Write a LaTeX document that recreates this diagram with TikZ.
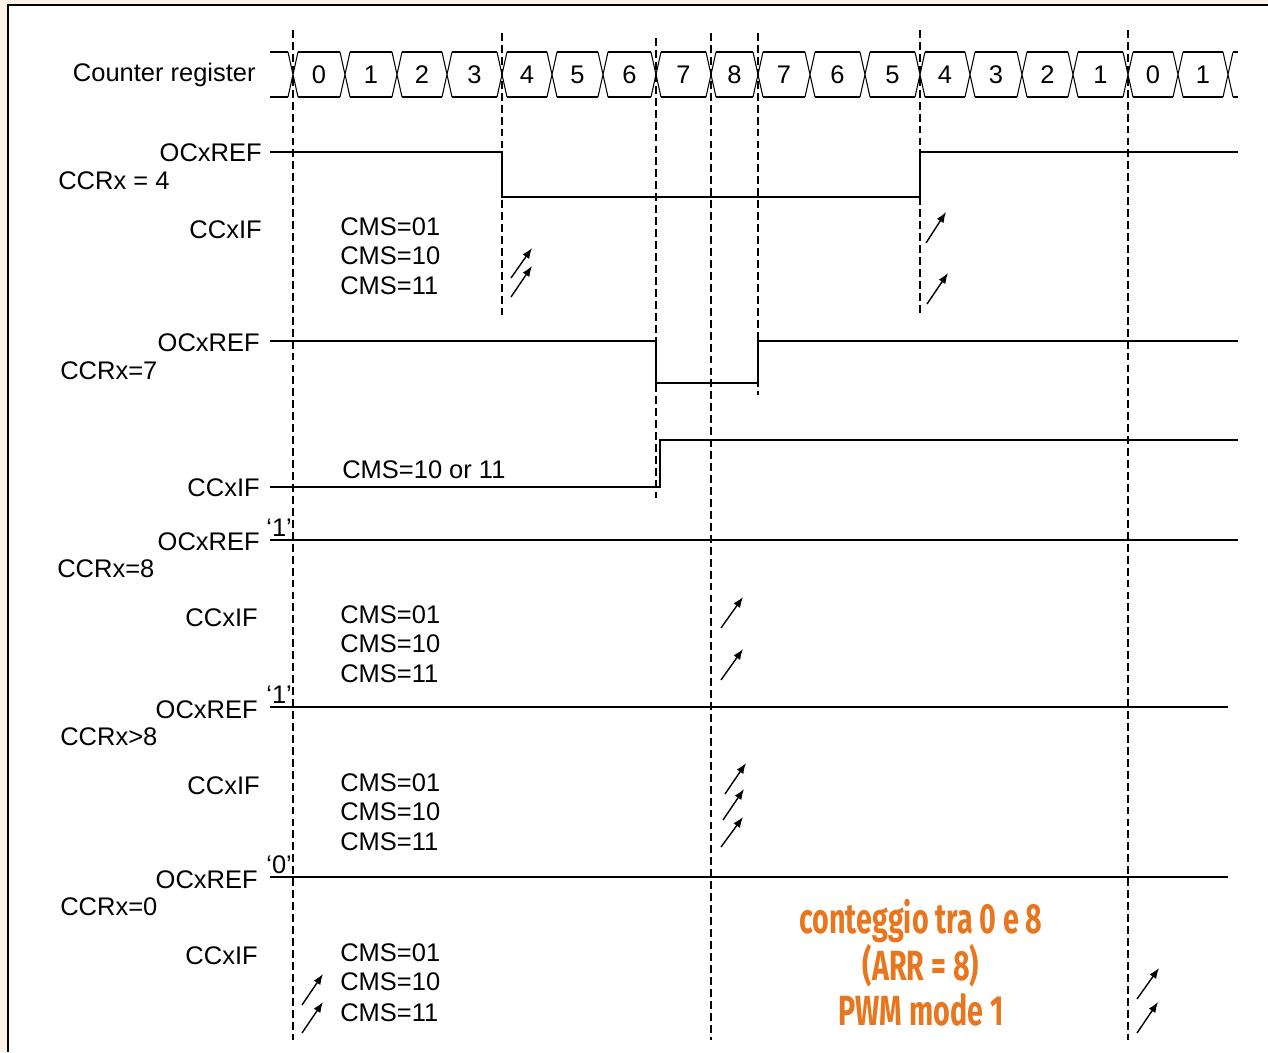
\documentclass[tikz,border=0pt]{standalone}
\usepackage{fontspec}
\setmainfont{Liberation Sans}
\newfontfamily\notefont[FakeStretch=0.68]{Fira Sans}
\definecolor{notecolor}{HTML}{E8761E}
\definecolor{paper}{HTML}{FCF2E8}
\usetikzlibrary{arrows.meta}

\begin{document}
\begin{tikzpicture}[x=0.02cm, y=-0.02cm,
      font=\fontsize{14.5}{17}\selectfont,
      sig/.style={line width=0.8pt},
      cell/.style={line width=0.6pt},
      guide/.style={line width=0.7pt, dash pattern=on 4.5pt off 2.3pt},
      flag/.style={-{Latex[length=6pt,width=4.5pt]}, line width=0.8pt},
      lblr/.style={anchor=base east, inner sep=0pt},
      lbll/.style={anchor=base west, inner sep=0pt}
    ]
      \useasboundingbox (0,0) rectangle (1268,1052);
      \fill[paper] (0,0) rectangle (1268,1052);
      \fill[white] (8,5) rectangle (1268,1052);
      \draw[line width=1.7pt] (8,1052) -- (8,5) -- (1268,5);

      % dashed guides
      \draw[guide] (293,30) -- (293,1040);
      \draw[guide] (502,33) -- (502,315);
      \draw[guide] (656,38) -- (656,498);
      \draw[guide] (711,33) -- (711,1040);
      \draw[guide] (758,33) -- (758,395);
      \draw[guide] (920,30) -- (920,315);
      \draw[guide] (1128,30) -- (1128,1040);

      % counter register
      \node[lblr] (cnt) at (256,81) {Counter register};
      \draw[cell] (270,52) -- (288,52) (270,97) -- (288,97);
      \draw[cell] (1233,52) -- (1238,52) (1233,97) -- (1238,97);
      \foreach \c in {293,345,397,447,502,552,603,656,711,758,810,865,920,970,1022,1073,1128,1178,1228}
        \draw[cell] (\c-5,52) -- (\c+5,97) (\c-5,97) -- (\c+5,52);
      \foreach \a/\b/\v in {293/345/0,345/397/1,397/447/2,447/502/3,502/552/4,552/603/5,
                            603/656/6,656/711/7,711/758/8,758/810/7,810/865/6,865/920/5,
                            920/970/4,970/1022/3,1022/1073/2,1073/1128/1,1128/1178/0,1178/1228/1}
      {
        \draw[cell] (\a+5,52) -- (\b-5,52) (\a+5,97) -- (\b-5,97);
        \node[anchor=base, inner sep=0pt] (v\a) at ({(\a+\b)/2},83) {\v};
      }

      % CCRx = 4
      \node[lblr] (ref1) at (262,161) {OCxREF};
      \node[lbll] (ccr1) at (58,189) {CCRx = 4};
      \draw[sig] (270,152) -- (502,152) -- (502,197) -- (920,197) -- (920,152) -- (1238,152);
      \node[lblr] (if1) at (262,238) {CCxIF};
      \node[lbll] (cms1a) at (340,235) {CMS=01};
      \node[lbll] (cms1b) at (340,264) {CMS=10};
      \node[lbll] (cms1c) at (340,294) {CMS=11};
      \draw[flag] (511,278) -- (532,248);
      \draw[flag] (511,297) -- (532,266);
      \draw[flag] (926,243) -- (946,212);
      \draw[flag] (927,304) -- (948,273);

      % CCRx = 7
      \node[lblr] (ref2) at (260,351) {OCxREF};
      \node[lbll] (ccr2) at (60,379) {CCRx=7};
      \draw[sig] (270,341) -- (656,341) -- (656,383) -- (758,383) -- (758,341) -- (1238,341);
      \node[lbll] (cms2) at (342,478) {CMS=10 or 11};
      \node[lblr] (if2) at (260,496) {CCxIF};
      \draw[sig] (270,487) -- (660,487) -- (660,440) -- (1238,440);

      % CCRx = 8
      \node[lbll] (one1) at (266,536) {‘1’};
      \node[lblr] (ref3) at (260,550) {OCxREF};
      \node[lbll] (ccr3) at (57,577) {CCRx=8};
      \draw[sig] (270,540) -- (1238,540);
      \node[lblr] (if3) at (258,626) {CCxIF};
      \node[lbll] (cms3a) at (340,623) {CMS=01};
      \node[lbll] (cms3b) at (340,652) {CMS=10};
      \node[lbll] (cms3c) at (340,682) {CMS=11};
      \draw[flag] (721,628) -- (743,597);
      \draw[flag] (721,680) -- (743,649);

      % CCRx > 8
      \node[lbll] (one2) at (266,703) {‘1’};
      \node[lblr] (ref4) at (258,718) {OCxREF};
      \node[lbll] (ccr4) at (60,745) {CCRx>8};
      \draw[sig] (270,707) -- (1228,707);
      \node[lblr] (if4) at (260,794) {CCxIF};
      \node[lbll] (cms4a) at (340,791) {CMS=01};
      \node[lbll] (cms4b) at (340,820) {CMS=10};
      \node[lbll] (cms4c) at (340,850) {CMS=11};
      \draw[flag] (725,794) -- (746,763);
      \draw[flag] (723,820) -- (744,789);
      \draw[flag] (721,847) -- (743,817);

      % CCRx = 0
      \node[lbll] (zero) at (266,873) {‘0’};
      \node[lblr] (ref5) at (258,888) {OCxREF};
      \node[lbll] (ccr5) at (60,915) {CCRx=0};
      \draw[sig] (270,877) -- (1228,877);
      \node[lblr] (if5) at (258,964) {CCxIF};
      \node[lbll] (cms5a) at (340,961) {CMS=01};
      \node[lbll] (cms5b) at (340,990) {CMS=10};
      \node[lbll] (cms5c) at (340,1021) {CMS=11};
      \draw[flag] (302,1005) -- (323,974);
      \draw[flag] (302,1033) -- (323,1002);
      \draw[flag] (1137,999) -- (1159,968);
      \draw[flag] (1137,1033) -- (1158,1002);

      \node[font=\notefont\bfseries\fontsize{24}{25.6}\selectfont, text=notecolor,
            align=center, inner sep=0pt] (note) at (921,963)
            {conteggio tra 0 e 8\\(ARR = 8)\\PWM mode 1};
    \end{tikzpicture}
\end{document}
